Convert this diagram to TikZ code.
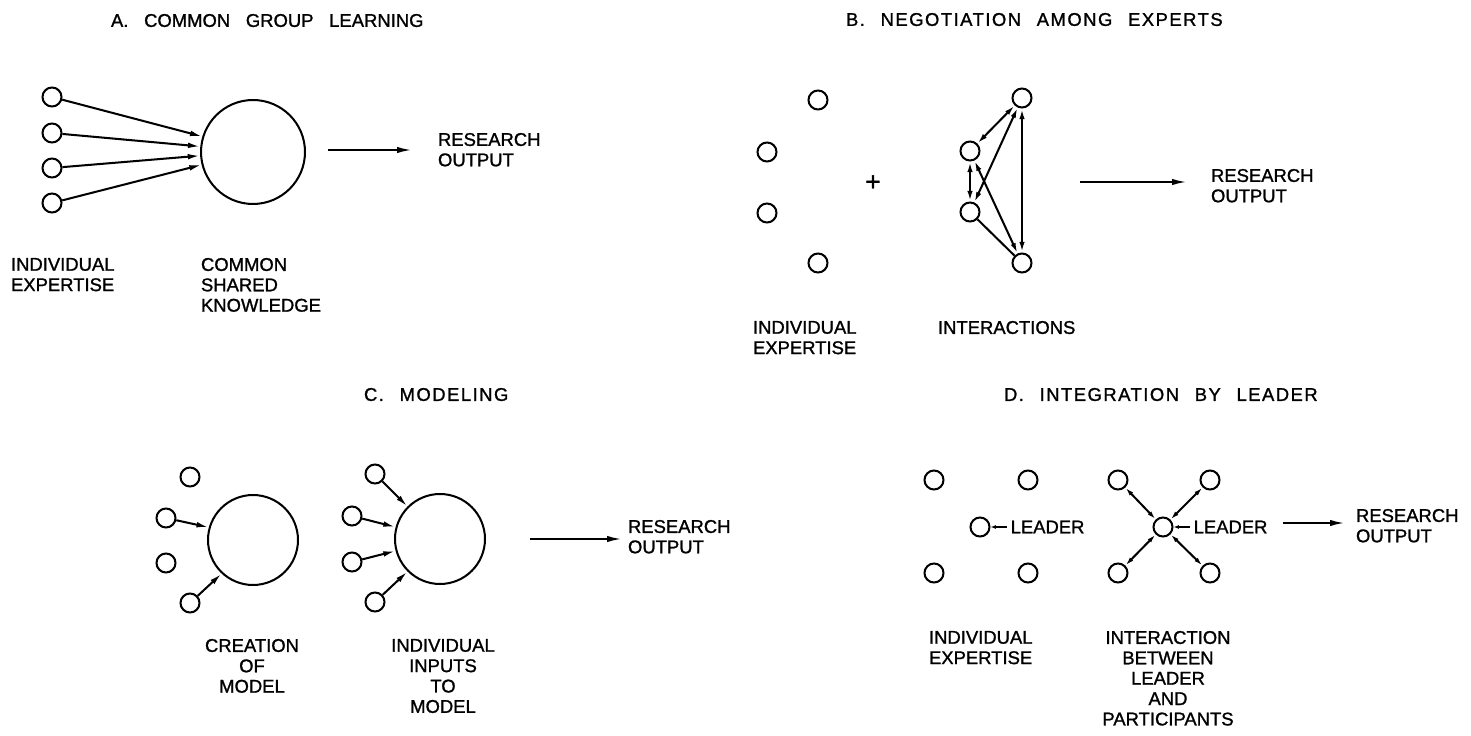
\documentclass[tikz,border=0pt]{standalone}
\usepackage{fontspec}
\setmainfont{Liberation Sans}[FakeBold=1.2]
\usepackage{tikz}
\usetikzlibrary{arrows.meta,positioning}
\newcommand{\lblfont}{\fontsize{10.5}{11.6}\selectfont}
\newcommand{\ttlfont}{\fontsize{10.5}{11.6}\selectfont\spaceskip 0.85em\relax}

\begin{document}
\begin{tikzpicture}[x=0.02cm,y=-0.02cm,line width=1.15pt,
	every node/.style={inner sep=0pt,font=\lblfont},
	expert/.style={circle,draw,minimum size=0.38cm},
	bigc/.style={circle,draw,minimum size=#1},
	hd/.style={-{Latex[length=7pt,width=3.2pt]}},
	hdd/.style={{Latex[length=6pt,width=3pt]}-{Latex[length=6pt,width=3pt]}},
	hds/.style={{Latex[length=5pt,width=2.6pt]}-{Latex[length=5pt,width=2.6pt]}},
	tick/.style={-{Latex[length=3pt,width=2.2pt]}},
	outarr/.style={-{Latex[length=8.5pt,width=3.6pt]}},
	ttl/.style={anchor=north west,font=\ttlfont},
	wide/.style={font=\ttlfont\addfontfeatures{LetterSpace=8}},
	lbl/.style={anchor=north west,align=left},
	lblc/.style={anchor=north,align=center}]
	\useasboundingbox (0,0) rectangle (1471,736);

	% A: common group learning
	\node[ttl] (ta) at (110,13) {A. COMMON GROUP LEARNING};
	\node[expert] (a1) at (52,97) {};
	\node[expert] (a2) at (52,133) {};
	\node[expert] (a3) at (52,168) {};
	\node[expert] (a4) at (52,203) {};
	\node[bigc=2.08cm] (know) at (253,152) {};
	\draw[hd] (a1)--(know.163);
	\draw[hd] (a2)--(know.174);
	\draw[hd] (a3)--(know.184);
	\draw[hd] (a4)--(know.194);
	\coordinate (oa1) at (328,150);
	\coordinate (oa2) at (412,150);
	\draw[outarr] (oa1)--(oa2);
	\node[lbl] (ra) at (437,132) {RESEARCH\\OUTPUT};
	\node[lbl] (la1) at (10,257) {INDIVIDUAL\\EXPERTISE};
	\node[lbl] (la2) at (200,257) {COMMON\\SHARED\\KNOWLEDGE};

	% B: negotiation among experts
	\node[ttl,wide] (tb) at (845,12) {B. NEGOTIATION AMONG EXPERTS};
	\node[expert] (b1) at (818,100) {};
	\node[expert] (b2) at (767,152) {};
	\node[expert] (b3) at (767,213) {};
	\node[expert] (b4) at (818,263) {};
	\node (plus) at (873,183) [font=\fontsize{15}{15}\selectfont] {+};
	\node[expert] (n1) at (1022,98) {};
	\node[expert] (n2) at (970,151) {};
	\node[expert] (n3) at (970,212) {};
	\node[expert] (n4) at (1022,263) {};
	\draw[hdd] (n1)--(n2);
	\draw[hdd] (n2)--(n3);
	\draw[hdd] (n1)--(n4);
	\draw[hdd] (n3)--(n1);
	\draw[hdd] (n2)--(n4);
	\draw (n3)--(n4);
	\coordinate (ob1) at (1080,182);
	\coordinate (ob2) at (1187,182);
	\draw[outarr] (ob1)--(ob2);
	\node[lbl] (rb) at (1210,168) {RESEARCH\\OUTPUT};
	\node[lbl] (lb1) at (752,320) {INDIVIDUAL\\EXPERTISE};
	\node[lbl] (lb2) at (937,320) {INTERACTIONS};

	% C: modeling
	\node[ttl,wide] (tc) at (363,387) {C. MODELING};
	\node[expert] (c1) at (190,477) {};
	\node[expert] (c2) at (166,518) {};
	\node[expert] (c3) at (166,563) {};
	\node[expert] (c4) at (190,603) {};
	\node[bigc=1.8cm] (mc) at (253,540) {};
	\draw[hd] (c2)--(mc.164);
	\draw[hd] (c4)--(mc.227);
	\node[expert] (i1) at (375,474) {};
	\node[expert] (i2) at (352,516) {};
	\node[expert] (i3) at (352,562) {};
	\node[expert] (i4) at (375,602) {};
	\node[bigc=1.8cm] (mi) at (440,539) {};
	\draw[hd] (i1)--(mi.135);
	\draw[hd] (i2)--(mi.165);
	\draw[hd] (i3)--(mi.195);
	\draw[hd] (i4)--(mi.225);
	\coordinate (oc1) at (530,539);
	\coordinate (oc2) at (622,539);
	\draw[outarr] (oc1)--(oc2);
	\node[lbl] (rc) at (627,519) {RESEARCH\\OUTPUT};
	\node[lblc] (lc1) at (252,638) {CREATION\\OF\\MODEL};
	\node[lblc] (lc2) at (443,638) {INDIVIDUAL\\INPUTS\\TO\\MODEL};

	% D: integration by leader
	\node[ttl,wide] (td) at (1003,387) {D. INTEGRATION BY LEADER};
	\node[expert] (e1) at (934,480) {};
	\node[expert] (e2) at (1028,480) {};
	\node[expert] (e3) at (934,573) {};
	\node[expert] (e4) at (1028,573) {};
	\node[expert] (el) at (980,527) {};
	\node (le) at (1007,527) [anchor=west,inner xsep=1.5pt] {LEADER};
	\draw[tick] (le)--(el);
	\node[expert] (f1) at (1118,480) {};
	\node[expert] (f2) at (1210,480) {};
	\node[expert] (f3) at (1118,573) {};
	\node[expert] (f4) at (1210,573) {};
	\node[expert] (fl) at (1163,527) {};
	\node (lf) at (1190,527) [anchor=west,inner xsep=1.5pt] {LEADER};
	\draw[tick] (lf)--(fl);
	\draw[hds] (fl)--(f1);
	\draw[hds] (fl)--(f2);
	\draw[hds] (fl)--(f3);
	\draw[hds] (fl)--(f4);
	\coordinate (od1) at (1283,523);
	\coordinate (od2) at (1345,523);
	\draw[outarr] (od1)--(od2);
	\node[lbl] (rd) at (1355,508) {RESEARCH\\OUTPUT};
	\node[lbl] (ld1) at (928,630) {INDIVIDUAL\\EXPERTISE};
	\node[lblc] (ld2) at (1168,630) {INTERACTION\\BETWEEN\\LEADER\\AND\\PARTICIPANTS};
\end{tikzpicture}
\end{document}
